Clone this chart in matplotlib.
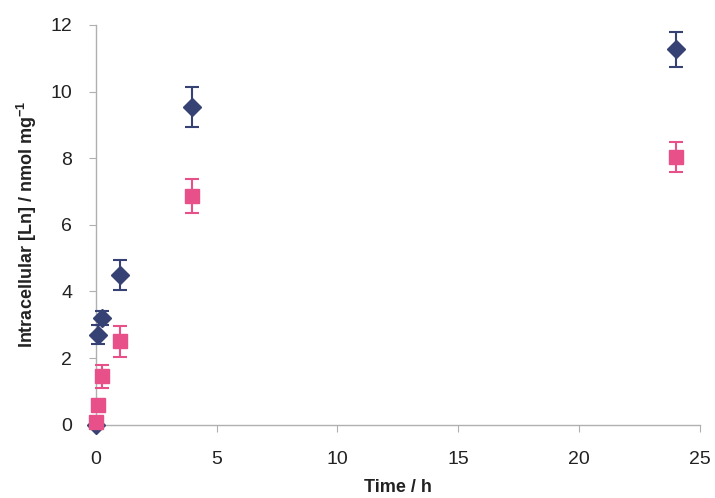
import numpy as np
import matplotlib
matplotlib.use('Agg')
import matplotlib.pyplot as plt

plt.rcParams['font.family'] = ['Liberation Sans', 'DejaVu Sans']
plt.rcParams['mathtext.fontset'] = 'custom'
plt.rcParams['mathtext.rm'] = 'Liberation Sans'
plt.rcParams['mathtext.bf'] = 'Liberation Sans:bold'

# data
time_blue = [0, 0.083, 0.25, 1, 4, 24]
ln_blue   = [0.0, 2.7, 3.2, 4.5, 9.55, 11.27]
err_blue  = [0.0, 0.28, 0.22, 0.45, 0.6, 0.52]

time_pink = [0, 0.083, 0.25, 1, 4, 24]
ln_pink   = [0.08, 0.6, 1.45, 2.5, 6.87, 8.03]
err_pink  = [0.05, 0.1, 0.35, 0.47, 0.52, 0.45]

blue = '#374274'
pink = '#e8508a'

fig = plt.figure(figsize=(7.15, 4.98), dpi=100)
ax = fig.add_axes([0.134, 0.147, 0.845, 0.803])

eb1 = ax.errorbar(time_blue, ln_blue, yerr=err_blue, fmt='D', color=blue, ms=9,
                  capsize=5, elinewidth=1.5, capthick=1.5, zorder=3)
eb2 = ax.errorbar(time_pink, ln_pink, yerr=err_pink, fmt='s', color=pink, ms=10,
                  capsize=5, elinewidth=1.5, capthick=1.5, zorder=4)
# markers at t=0 sit on the axis, don't cut them off
for eb in (eb1, eb2):
    for art in eb.get_children():
        art.set_clip_on(False)

ax.set_xlim(0, 25)
ax.set_ylim(0, 12)
ax.set_xticks(np.arange(0, 26, 5))
ax.set_yticks(np.arange(0, 13, 2))

for s in ['top', 'right']:
    ax.spines[s].set_visible(False)
for s in ['left', 'bottom']:
    ax.spines[s].set_color('#b0b0b0')
    ax.spines[s].set_linewidth(1)
ax.tick_params(colors='#b0b0b0', labelcolor='#222222', labelsize=14,
               length=5, direction='out')
ax.tick_params(axis='x', pad=14)
ax.tick_params(axis='y', pad=12)

ax.set_xlabel('Time / h', fontsize=13, fontweight='bold', color='#222222',
              labelpad=8)
ax.set_ylabel(r'Intracellular [Ln] / nmol mg$^{\mathbf{-1}}$', fontsize=13,
              fontweight='bold', color='#222222', labelpad=8)

plt.savefig('out.png', dpi=100)
